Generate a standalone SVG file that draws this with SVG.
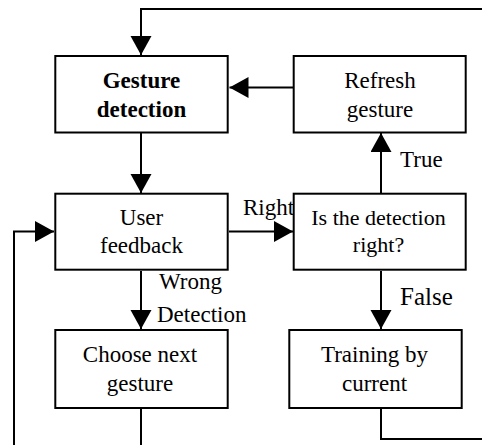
<svg xmlns="http://www.w3.org/2000/svg" width="482" height="445" viewBox="0 0 482 445">
<defs>
<marker id="ah" markerUnits="userSpaceOnUse" markerWidth="20" markerHeight="22" refX="19" refY="10.5" orient="auto" viewBox="0 0 20 22">
<path d="M0,0 L19,10.5 L0,21 z" fill="#000"/>
</marker>
<style>
.box{fill:#fff;stroke:#000;stroke-width:2}
.t{font-size:23px;fill:#000;text-anchor:middle}
.b{font-weight:bold}
.l{font-size:23px;fill:#000}
.c{fill:none;stroke:#000;stroke-width:2}
.a{marker-end:url(#ah)}
</style>
</defs>
<rect width="482" height="445" fill="#fff"/>
<g font-family="Liberation Serif, DejaVu Serif, serif">
<g id="connectors">
<path class="c a" d="M482,9 H141 V55"/>
<path class="c a" d="M293,87.5 H229.5"/>
<path class="c a" d="M141,133 V193"/>
<path class="c a" d="M229,231.5 H293"/>
<path class="c a" d="M381,193 V133"/>
<path class="c a" d="M141,271 V329"/>
<path class="c a" d="M381,271 V329"/>
<path class="c" d="M141,409 V445"/>
<path class="c" d="M381,409 V439 H482"/>
<path class="c a" d="M14,445 V231.5 H54"/>
<text class="l" x="243" y="215" font-size="22">Right</text>
<text class="l" x="400" y="166.5">True</text>
<text class="l" x="400" y="305" style="font-size:25px">False</text>
<text class="l" x="159" y="288.5">Wrong</text>
<text class="l" x="157" y="321.5">Detection</text>
</g>
<g id="gesture-detection">
<rect class="box" x="55.3" y="56" width="172.4" height="76.5"/>
<text class="t b" x="141.5" y="87.5">Gesture</text>
<text class="t b" x="141.5" y="116.5">detection</text>
</g>
<g id="refresh-gesture">
<rect class="box" x="293.7" y="56" width="172" height="76.5"/>
<text class="t" x="380" y="87.5">Refresh</text>
<text class="t" x="380" y="116.5">gesture</text>
</g>
<g id="user-feedback">
<rect class="box" x="55.3" y="193.7" width="172.4" height="76"/>
<text class="t" x="141.5" y="225">User</text>
<text class="t" x="141.5" y="252.5">feedback</text>
</g>
<g id="is-detection-right">
<rect class="box" x="293.7" y="193.7" width="172" height="76"/>
<text class="t" x="378.5" y="225" style="font-size:22px">Is the detection</text>
<text class="t" x="378.5" y="251.5" style="font-size:22px">right?</text>
</g>
<g id="choose-next-gesture">
<rect class="box" x="55.3" y="330" width="172.4" height="78"/>
<text class="t" x="140" y="361.5">Choose next</text>
<text class="t" x="140" y="390.5">gesture</text>
</g>
<g id="training-by-current">
<rect class="box" x="289.3" y="330" width="172.4" height="78"/>
<text class="t" x="374.5" y="361.5">Training by</text>
<text class="t" x="374.5" y="390.5">current</text>
</g>
</g>
</svg>
